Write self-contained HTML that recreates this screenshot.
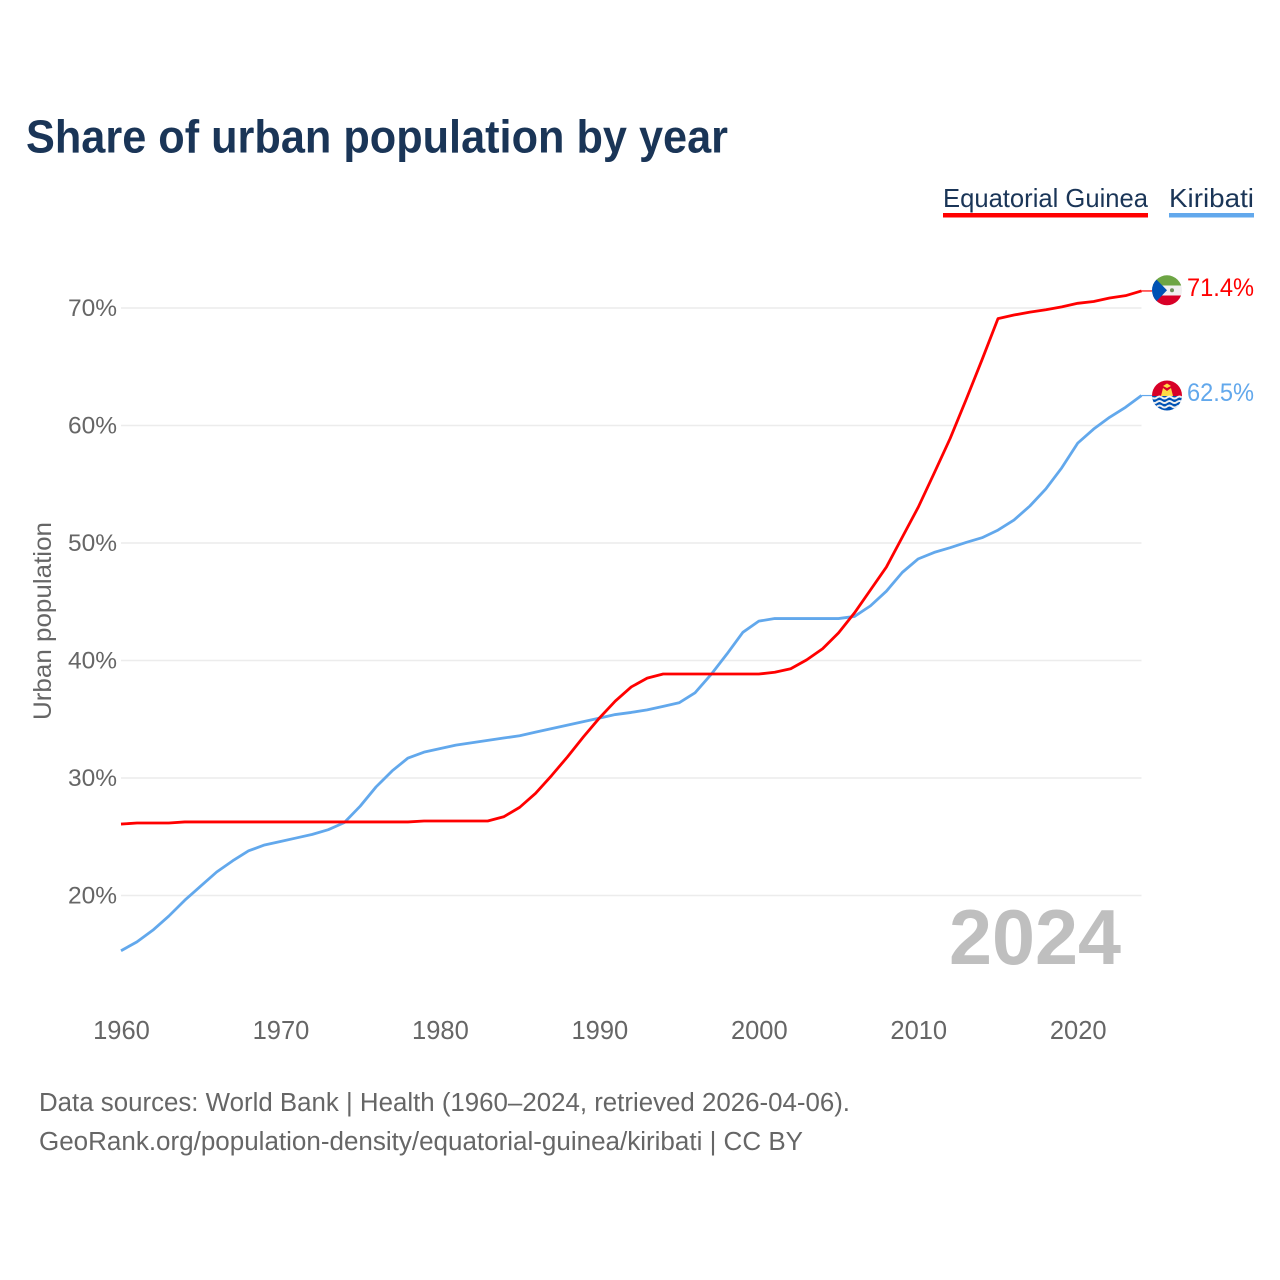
<!DOCTYPE html>
<html lang="en">
<head>
<meta charset="utf-8">
<title>Share of urban population by year</title>
<style>
html,body{margin:0;padding:0;background:#fff;}
svg{display:block;font-family:"Liberation Sans",sans-serif;}
</style>
</head>
<body>
<svg id="chart" width="1280" height="1280" viewBox="0 0 1280 1280" xmlns="http://www.w3.org/2000/svg">
  <rect width="1280" height="1280" fill="#ffffff"/>
  <text x="26" y="152.5" font-size="46" font-weight="700" fill="#1a3557" textLength="702" lengthAdjust="spacingAndGlyphs">Share of urban population by year</text>

  <g>
    <text x="943" y="207" font-size="26" fill="#1a3557" textLength="205" lengthAdjust="spacingAndGlyphs">Equatorial Guinea</text>
    <rect x="943" y="213" width="205" height="4.5" fill="#ff0000"/>
  </g>
  <g>
    <text x="1169" y="207" font-size="26" fill="#1a3557" textLength="85" lengthAdjust="spacingAndGlyphs">Kiribati</text>
    <rect x="1169" y="213" width="85" height="4.5" fill="#62a8ec"/>
  </g>

  <g id="grid"></g>
  <g id="yticks"></g>
  <g id="xticks"></g>

  <text transform="translate(51,720) rotate(-90)" font-size="25" fill="#666666" textLength="198" lengthAdjust="spacingAndGlyphs">Urban population</text>

  <text x="949" y="964" font-size="78" font-weight="700" fill="#bfbfbf" textLength="172" lengthAdjust="spacingAndGlyphs">2024</text>

  <g id="series"></g>

  <defs>
    <clipPath id="flag-clip-a"><circle cx="1167" cy="290.3" r="15"/></clipPath>
    <clipPath id="flag-clip-b"><circle cx="1167" cy="395.5" r="15"/></clipPath>
  </defs>

  <g clip-path="url(#flag-clip-a)">
    <rect x="1152" y="275" width="30" height="10.5" fill="#6da544"/>
    <rect x="1152" y="285.5" width="30" height="10" fill="#f0f0f0"/>
    <rect x="1152" y="295.5" width="30" height="11" fill="#d80027"/>
    <polygon points="1150,273 1150,308 1167,290.3" fill="#0052b4"/>
    <circle cx="1172" cy="290.3" r="2" fill="#6d8f5a"/>
  </g>
  <g clip-path="url(#flag-clip-b)">
    <rect x="1152" y="380" width="30" height="16" fill="#d80027"/>
    <rect x="1152" y="396" width="30" height="15" fill="#0052b4"/>
    <polygon points="1161,396 1163,388 1167,391 1171,388 1173,396" fill="#ffda44"/>
    <polygon points="1163,386 1167,383.5 1171,386 1167,388" fill="#ffda44"/>
    <path d="M1152 397.5q2.5 2 5 0t5 0 5 0 5 0 5 0 5 0" fill="none" stroke="#f0f0f0" stroke-width="2"/>
    <path d="M1152 402q2.5 2 5 0t5 0 5 0 5 0 5 0 5 0" fill="none" stroke="#f0f0f0" stroke-width="2"/>
    <path d="M1152 406.5q2.5 2 5 0t5 0 5 0 5 0 5 0 5 0" fill="none" stroke="#f0f0f0" stroke-width="2"/>
  </g>

  <text x="1187" y="296" font-size="25" fill="#ff0000" textLength="67" lengthAdjust="spacingAndGlyphs">71.4%</text>
  <text x="1187" y="401" font-size="25" fill="#62a8ec" textLength="67" lengthAdjust="spacingAndGlyphs">62.5%</text>

  <text x="39" y="1111" font-size="25.5" fill="#666666" textLength="811" lengthAdjust="spacingAndGlyphs">Data sources: World Bank | Health (1960–2024, retrieved 2026-04-06).</text>
  <text x="39" y="1150" font-size="25.5" fill="#666666" textLength="764" lengthAdjust="spacingAndGlyphs">GeoRank.org/population-density/equatorial-guinea/kiribati | CC BY</text>
</svg>

<script>
const startYear = 1960;
const endYear = 2024;
const yTickValues = [20, 30, 40, 50, 60, 70];
const yTickLabels = ["20%", "30%", "40%", "50%", "60%", "70%"];
const xTickLabels = ["1960", "1970", "1980", "1990", "2000", "2010", "2020"];
const equatorialGuinea = [
  26.08, 26.17, 26.17, 26.17, 26.26, 26.26, 26.26, 26.26, 26.26, 26.26,
  26.26, 26.26, 26.26, 26.26, 26.26, 26.26, 26.26, 26.26, 26.26, 26.34,
  26.34, 26.34, 26.34, 26.34, 26.7, 27.5, 28.7, 30.2, 31.8, 33.5,
  35.1, 36.55, 37.75, 38.5, 38.85, 38.85, 38.85, 38.85, 38.85, 38.85,
  38.85, 39.0, 39.3, 40.05, 41.0, 42.35, 44.05, 46.0, 47.95, 50.5,
  53.05, 55.95, 58.9, 62.2, 65.6, 69.1, 69.4, 69.65, 69.85, 70.1,
  70.4, 70.55, 70.85, 71.05, 71.45
];
const kiribati = [
  15.3, 16.05, 17.05, 18.25, 19.6, 20.8, 22.0, 22.95, 23.8, 24.3,
  24.6, 24.9, 25.2, 25.6, 26.2, 27.6, 29.25, 30.6, 31.7, 32.2,
  32.5, 32.8, 33.0, 33.2, 33.4, 33.6, 33.9, 34.2, 34.5, 34.8,
  35.1, 35.4, 35.58, 35.8, 36.1, 36.4, 37.25, 38.8, 40.55, 42.4,
  43.35, 43.57, 43.57, 43.57, 43.57, 43.57, 43.75, 44.65, 45.9, 47.5,
  48.65, 49.2, 49.6, 50.05, 50.45, 51.1, 51.95, 53.15, 54.6, 56.4,
  58.5, 59.7, 60.7, 61.55, 62.55
];

const NS = "http://www.w3.org/2000/svg";
const plotLeft = 121;
const plotRight = 1141.5;
function xScale(year) {
  return plotLeft + (year - startYear) * (plotRight - plotLeft) / (endYear - startYear);
}
function yScale(value) {
  return 308 + (70 - value) * 11.75;
}

const grid = document.getElementById("grid");
const yticks = document.getElementById("yticks");
yTickValues.forEach(function (v, i) {
  const line = document.createElementNS(NS, "line");
  
  
  line.setAttribute("x1", plotLeft);
  line.setAttribute("x2", plotRight);
  line.setAttribute("y1", yScale(v));
  line.setAttribute("y2", yScale(v));
  line.setAttribute("stroke", "#ececec");
  line.setAttribute("stroke-width", "1.5");
  grid.appendChild(line);

  const label = document.createElementNS(NS, "text");
  
  
  label.setAttribute("x", 117);
  label.setAttribute("y", yScale(v) + 8);
  label.setAttribute("text-anchor", "end");
  label.setAttribute("font-size", "24.5");
  label.setAttribute("fill", "#666666");
  label.textContent = yTickLabels[i];
  yticks.appendChild(label);
});

const xticks = document.getElementById("xticks");
xTickLabels.forEach(function (t) {
  const label = document.createElementNS(NS, "text");
  
  
  label.setAttribute("x", xScale(Number(t)) + 0.5);
  label.setAttribute("y", 1039);
  label.setAttribute("text-anchor", "middle");
  label.setAttribute("font-size", "25.5");
  label.setAttribute("fill", "#666666");
  label.textContent = t;
  xticks.appendChild(label);
});

function pointsFor(values) {
  return values.map(function (v, i) {
    return xScale(startYear + i).toFixed(2) + "," + yScale(v).toFixed(2);
  }).join(" ");
}

const seriesGroup = document.getElementById("series");

const lineKiribati = document.createElementNS(NS, "polyline");


lineKiribati.setAttribute("points", pointsFor(kiribati));
lineKiribati.setAttribute("fill", "none");
lineKiribati.setAttribute("stroke", "#62a8ec");
lineKiribati.setAttribute("stroke-width", "2.8");
lineKiribati.setAttribute("stroke-linejoin", "round");
seriesGroup.appendChild(lineKiribati);

const lineGuinea = document.createElementNS(NS, "polyline");


lineGuinea.setAttribute("points", pointsFor(equatorialGuinea));
lineGuinea.setAttribute("fill", "none");
lineGuinea.setAttribute("stroke", "#ff0000");
lineGuinea.setAttribute("stroke-width", "2.8");
lineGuinea.setAttribute("stroke-linejoin", "round");
seriesGroup.appendChild(lineGuinea);

const stubKiribati = document.createElementNS(NS, "line");


stubKiribati.setAttribute("x1", xScale(endYear));
stubKiribati.setAttribute("x2", 1153);
stubKiribati.setAttribute("y1", yScale(kiribati[kiribati.length - 1]));
stubKiribati.setAttribute("y2", yScale(kiribati[kiribati.length - 1]));
stubKiribati.setAttribute("stroke", "#62a8ec");
stubKiribati.setAttribute("stroke-width", "1.2");
seriesGroup.appendChild(stubKiribati);

const stubGuinea = document.createElementNS(NS, "line");


stubGuinea.setAttribute("x1", xScale(endYear));
stubGuinea.setAttribute("x2", 1153);
stubGuinea.setAttribute("y1", yScale(equatorialGuinea[equatorialGuinea.length - 1]));
stubGuinea.setAttribute("y2", yScale(equatorialGuinea[equatorialGuinea.length - 1]));
stubGuinea.setAttribute("stroke", "#ff0000");
stubGuinea.setAttribute("stroke-width", "1.2");
seriesGroup.appendChild(stubGuinea);
</script>
</body>
</html>
